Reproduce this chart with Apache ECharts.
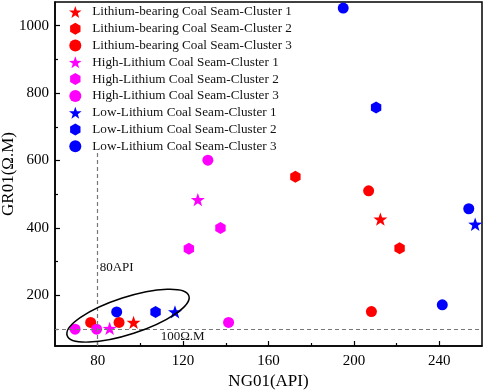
<!DOCTYPE html>
<html>
<head>
<meta charset="utf-8">
<script src="https://cdn.jsdelivr.net/npm/echarts@6/dist/echarts.min.js"></script>
<style>
  html, body { margin: 0; padding: 0; background: #fff; }
  #chart { width: 484px; height: 391px; }
</style>
</head>
<body>
<div id="chart"></div>
<script>
// 数据 (NG01, GR01)
const liBearing1 = [[96.8, 120], [212.4, 426]]
const liBearing2 = [[221.4, 340], [172.6, 552]]
const liBearing3 = [[206.9, 510], [208.2, 152], [76.7, 120], [90, 120]]
const highLi1 = [[126.9, 484], [85.6, 102]]
const highLi2 = [[122.7, 338], [137.5, 400]]
const highLi3 = [[131.6, 601], [141.3, 120], [69.4, 100], [79.5, 100]]
const lowLi1 = [[256.8, 411], [116.2, 151]]
const lowLi2 = [[210.4, 757], [107.1, 151]]
const lowLi3 = [[195, 1052], [253.8, 457], [241.4, 172], [88.9, 151]]

const xLabels = [80, 120, 160, 200, 240]
const xMinor = [100, 140, 180, 220]
const yLabels = [200, 400, 600, 800, 1000]
const yMinor = [100, 300, 500, 700, 900]

const FONT = 'Liberation Serif'

// 符号
function starPath() {
    let d = ''
    for (let i = 0; i < 10; i++) {
        const r = i % 2 === 0 ? 1 : 0.4
        const a = -Math.PI / 2 + i * Math.PI / 5
        d += (i === 0 ? 'M' : 'L') + (r * Math.cos(a)).toFixed(3) + ',' + (r * Math.sin(a)).toFixed(3)
    }
    return 'path://' + d + 'Z'
}
const STAR = starPath()
const HEX = 'path://M0,-1L0.866,-0.5L0.866,0.5L0,1L-0.866,0.5L-0.866,-0.5Z'

const chart = echarts.init(document.getElementById('chart'))

function mk(name, data, color, symbol, size) {
    return {
        name: name,
        type: 'scatter',
        data: data,
        symbol: symbol,
        symbolSize: size,
        symbolKeepAspect: true,
        itemStyle: { color: color, opacity: 1 },
        z: 3
    }
}

const series = [
    mk('Lithium-bearing Coal Seam-Cluster 1', liBearing1, '#ff0000', STAR, 14),
    mk('Lithium-bearing Coal Seam-Cluster 2', liBearing2, '#ff0000', HEX, 12),
    mk('Lithium-bearing Coal Seam-Cluster 3', liBearing3, '#ff0000', 'circle', 11),
    mk('High-Lithium Coal Seam-Cluster 1', highLi1, '#ff00ff', STAR, 14),
    mk('High-Lithium Coal Seam-Cluster 2', highLi2, '#ff00ff', HEX, 12),
    mk('High-Lithium Coal Seam-Cluster 3', highLi3, '#ff00ff', 'circle', 11),
    mk('Low-Lithium Coal Seam-Cluster 1', lowLi1, '#0000ff', STAR, 14),
    mk('Low-Lithium Coal Seam-Cluster 2', lowLi2, '#0000ff', HEX, 12),
    mk('Low-Lithium Coal Seam-Cluster 3', lowLi3, '#0000ff', 'circle', 11)
]

// 虚线 (80API, 100Ω.M)
series.push({
    type: 'scatter',
    data: [],
    silent: true,
    markLine: {
        silent: true,
        symbol: 'none',
        label: { show: false },
        lineStyle: { color: '#777', type: [4, 3], width: 1.2 },
        data: [
            [{ coord: [80, 50] }, { coord: [80, 630] }],
            [{ coord: [60, 100] }, { coord: [260, 100] }]
        ]
    }
})

const axisCommon = {
    axisLine: { show: true, onZero: false, lineStyle: { color: '#000', width: 1.5 } },
    splitLine: { show: false },
    axisLabel: { color: '#000', fontFamily: FONT, fontSize: 15, formatter: v => String(v) },
    nameTextStyle: { color: '#000', fontFamily: FONT, fontSize: 17 },
    nameMoveOverlap: false
}

const option = {
    animation: false,
    backgroundColor: '#fff',
    grid: {
        left: 55, right: 2, top: 2, bottom: 45,
        outerBoundsMode: 'none',
        containLabel: false,
        show: true, borderColor: '#000', borderWidth: 1.5
    },
    legend: {
        left: 64, top: 0,
        orient: 'vertical',
        itemGap: 3,
        itemWidth: 14, itemHeight: 12,
        textStyle: { color: '#111', fontFamily: FONT, fontSize: 13.2, padding: [0, 0, 0, 5], lineHeight: 13.8 },
        data: series.slice(0, 9).map(s => s.name)
    },
    xAxis: [{
        ...axisCommon,
        type: 'value', min: 60, max: 260,
        name: 'NG01(API)', nameLocation: 'middle', nameGap: 27,
        axisTick: { show: true, inside: true, length: 5, customValues: xLabels, lineStyle: { color: '#000', width: 1.2 } },
        axisLabel: { ...axisCommon.axisLabel, margin: 8, customValues: xLabels }
    }, {
        type: 'value', min: 60, max: 260, position: 'bottom',
        axisLine: { show: false },
        splitLine: { show: false },
        axisLabel: { show: false },
        axisTick: { show: true, inside: true, length: 3, customValues: xMinor, lineStyle: { color: '#000', width: 1.2 } }
    }],
    yAxis: [{
        ...axisCommon,
        type: 'value', min: 50, max: 1070,
        name: 'GR01(Ω.M)', nameLocation: 'middle', nameGap: 38,
        axisTick: { show: true, inside: true, length: 5, customValues: yLabels, lineStyle: { color: '#000', width: 1.2 } },
        axisLabel: { ...axisCommon.axisLabel, margin: 6, customValues: yLabels }
    }, {
        type: 'value', min: 50, max: 1070, position: 'left',
        axisLine: { show: false },
        splitLine: { show: false },
        axisLabel: { show: false },
        axisTick: { show: true, inside: true, length: 3, customValues: yMinor, lineStyle: { color: '#000', width: 1.2 } }
    }],
    series: series
}

chart.setOption(option)

// 注释: 文本和椭圆
const p80 = chart.convertToPixel({ xAxisIndex: 0, yAxisIndex: 0 }, [80, 282])
const p100 = chart.convertToPixel({ xAxisIndex: 0, yAxisIndex: 0 }, [109.5, 78])
const pEll = chart.convertToPixel({ xAxisIndex: 0, yAxisIndex: 0 }, [94.2, 140])

chart.setOption({
    graphic: [
        {
            type: 'text', x: p80[0] + 2, y: p80[1],
            style: { text: '80API', fill: '#111', font: '13px ' + FONT, verticalAlign: 'middle' }
        },
        {
            type: 'text', x: p100[0], y: p100[1],
            style: { text: '100Ω.M', fill: '#111', font: '13px ' + FONT, verticalAlign: 'middle' }
        },
        {
            type: 'ellipse', x: pEll[0], y: pEll[1], rotation: 18 * Math.PI / 180,
            shape: { cx: 0, cy: 0, rx: 64, ry: 18.5 },
            style: { fill: 'none', stroke: '#000', lineWidth: 1.5 },
            z: 10
        }
    ]
})
</script>
</body>
</html>
